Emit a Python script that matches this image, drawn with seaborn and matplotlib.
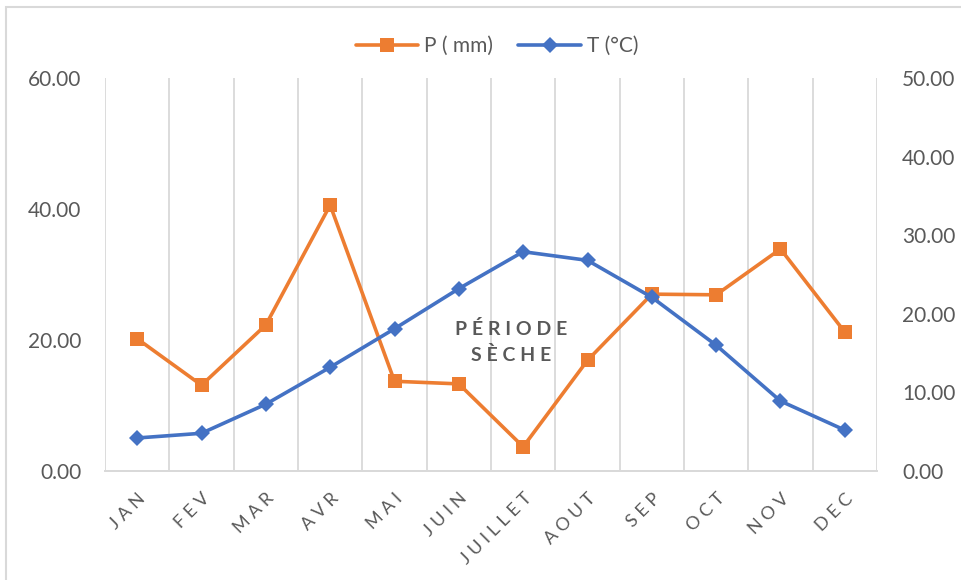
# climate diagram: precipitation vs temperature

import numpy as np
import pandas as pd
import seaborn as sns
import matplotlib.pyplot as plt
from matplotlib.patches import Rectangle

# data
months = ['JAN', 'FEV', 'MAR', 'AVR', 'MAI', 'JUIN', 'JUILLET', 'AOUT', 'SEP', 'OCT', 'NOV', 'DEC']
precip = [20.2, 13.1, 22.3, 40.6, 13.7, 13.3, 3.7, 16.9, 27.0, 26.9, 33.9, 21.2]
temp = [4.2, 4.8, 8.5, 13.2, 18.1, 23.2, 27.9, 26.8, 22.1, 16.0, 8.9, 5.2]
left_ticks = [0, 20, 40, 60]
right_ticks = [0, 10, 20, 30, 40, 50]

orange = '#ED7D31'
blue = '#4472C4'
grey_txt = '#595959'
grey_line = '#D9D9D9'

df = pd.DataFrame({'month': months, 'P': precip, 'T': temp})
df['pos'] = np.arange(len(months))

sns.set_style('white')
plt.rcParams['font.family'] = ['Lato', 'DejaVu Sans']

fig = plt.figure(figsize=(9.61, 5.8), dpi=100)
ax = fig.add_axes([105 / 961, 109 / 580, 772 / 961, 393 / 580])
ax2 = ax.twinx()

# precipitation on the left axis
sns.lineplot(data=df, x='pos', y='P', ax=ax, color=orange, lw=2.6,
             marker='s', markersize=10, markeredgewidth=0, label='P ( mm)', legend=False)
# temperature on the right axis
sns.lineplot(data=df, x='pos', y='T', ax=ax2, color=blue, lw=2.6,
             marker='D', markersize=8.5, markeredgewidth=0, label='T (°C)', legend=False)

ax.set_xlim(-0.5, len(months) - 0.5)
ax.set_ylim(0, 60)
ax2.set_ylim(0, 50)

ax.set_yticks(left_ticks)
ax.set_yticklabels([f'{v:.2f}' for v in left_ticks], fontsize=15, color=grey_txt)
ax2.set_yticks(right_ticks)
ax2.set_yticklabels([f'{v:.2f}' for v in right_ticks], fontsize=15, color=grey_txt)

# month labels are letter-spaced in the original
ax.set_xticks(df['pos'])
spaced = [' '.join(m) for m in months]
ax.set_xticklabels(spaced, rotation=45, ha='right', rotation_mode='anchor',
                   fontsize=13, color=grey_txt)
ax.set_xlabel('')
ax.set_ylabel('')
ax2.set_ylabel('')

# vertical gridlines on category boundaries
ax.set_xticks(np.arange(-0.5, len(months), 1), minor=True)
ax.grid(which='minor', axis='x', color=grey_line, lw=1.3)
ax.grid(which='major', visible=False)
ax2.grid(False)
ax.tick_params(which='both', length=0)
ax2.tick_params(length=0)
ax.tick_params(axis='y', pad=17)
ax2.tick_params(axis='y', pad=18)
ax.tick_params(axis='x', pad=14)

for a in (ax, ax2):
    for s in ['top', 'left', 'right']:
        a.spines[s].set_visible(False)
    a.spines['bottom'].set_color(grey_line)
    a.spines['bottom'].set_linewidth(1.3)

ax.text(5.81, 19.7, 'P É R I O D E\nS È C H E',
        ha='center', va='center', fontsize=14, fontweight='bold', color=grey_txt,
        linespacing=1.5, zorder=5)

h1, l1 = ax.get_legend_handles_labels()
h2, l2 = ax2.get_legend_handles_labels()
fig.legend(h1 + h2, l1 + l2, loc='center', bbox_to_anchor=(497 / 961, 1 - 46 / 580),
           ncol=2, frameon=False, fontsize=15, labelcolor=grey_txt,
           handlelength=3, columnspacing=1.2, handletextpad=0.3)

# chart border
fig.patches.append(Rectangle((6 / 961, -0.1), 1.2, 1.1 - 7 / 580, transform=fig.transFigure,
                             fill=False, edgecolor=grey_line, lw=1.5))

fig.savefig('out.png', dpi=100)
